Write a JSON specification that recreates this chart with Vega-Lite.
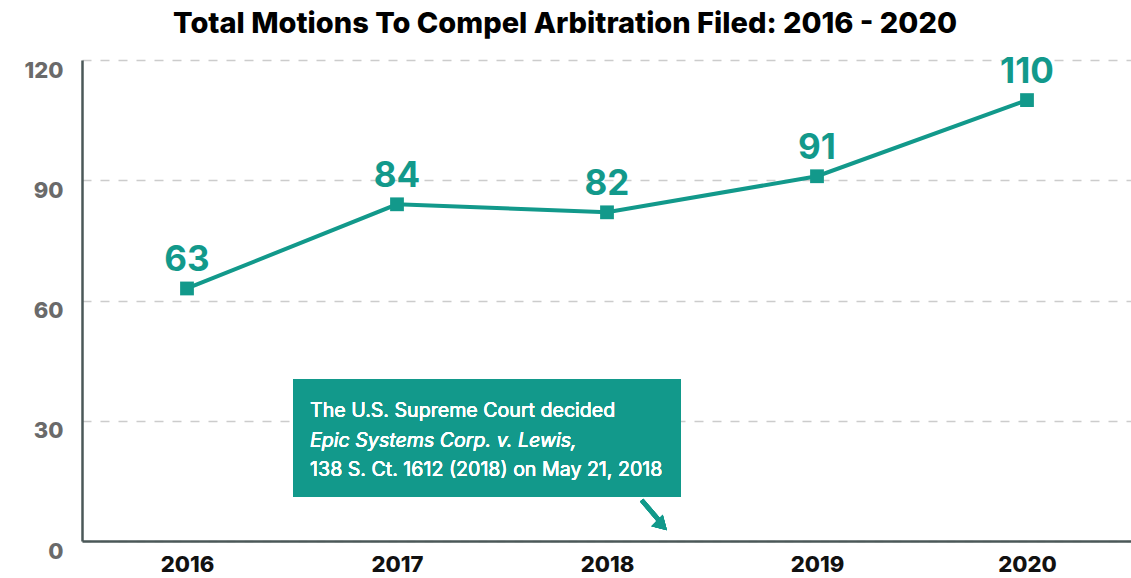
{
  "$schema": "https://vega.github.io/schema/vega-lite/v6.json",
  "width": 1050,
  "height": 481,
  "autosize": "none",
  "padding": {"left": 82, "top": 60, "right": 0, "bottom": 37},
  "background": "white",
  "title": {
    "text": "Total Motions To Compel Arbitration Filed: 2016 - 2020",
    "font": "Inter",
    "fontSize": 29,
    "fontWeight": 800,
    "color": "#000000",
    "anchor": "middle",
    "dx": -42,
    "offset": 16
  },
  "config": {
    "view": {"stroke": null},
    "font": "Inter"
  },
  "data": {
    "values": [
      {"year": 2016, "motions": 63},
      {"year": 2017, "motions": 84},
      {"year": 2018, "motions": 82},
      {"year": 2019, "motions": 91},
      {"year": 2020, "motions": 110}
    ]
  },
  "encoding": {
    "x": {
      "field": "year",
      "type": "quantitative",
      "scale": {"domain": [2015.5, 2020.5], "nice": false, "zero": false},
      "axis": {
        "title": null,
        "values": [2016, 2017, 2018, 2019, 2020],
        "format": "d",
        "grid": false,
        "ticks": false,
        "domainColor": "#4b5858",
        "domainWidth": 2.5,
        "labelFont": "Inter",
        "labelFontWeight": 800,
        "labelFontSize": 22,
        "labelColor": "#111111",
        "labelBaseline": "top",
        "labelPadding": 13
      }
    },
    "y": {
      "field": "motions",
      "type": "quantitative",
      "scale": {"domain": [0, 120], "nice": false},
      "axis": {
        "title": null,
        "values": [0, 30, 60, 90, 120],
        "grid": true,
        "gridColor": "#cccccc",
        "gridDash": [9, 9],
        "gridWidth": 1.5,
        "ticks": false,
        "domainColor": "#4b5858",
        "domainWidth": 2.5,
        "labelFont": "Inter",
        "labelFontWeight": 800,
        "labelFontSize": 22,
        "labelColor": "#6a6a6a",
        "labelPadding": 19,
        "labelOffset": 10
      }
    }
  },
  "layer": [
    {
      "mark": {
        "type": "line",
        "color": "#12998b",
        "strokeWidth": 4,
        "point": {"shape": "square", "size": 190, "filled": true, "color": "#12998b", "opacity": 1}
      }
    },
    {
      "mark": {
        "type": "text",
        "color": "#12998b",
        "font": "Inter",
        "fontSize": 35,
        "fontWeight": 700,
        "dy": -28,
        "baseline": "middle"
      },
      "encoding": {"text": {"field": "motions", "type": "quantitative"}}
    },
    {
      "mark": {"type": "rect", "color": "#12998b", "opacity": 1},
      "encoding": {
        "x": {"datum": 2016.505, "type": "quantitative"},
        "x2": {"datum": 2018.352},
        "y": {"datum": 40.4, "type": "quantitative"},
        "y2": {"datum": 10.98}
      }
    },
    {
      "mark": {"type": "text", "color": "white", "font": "Inter", "fontSize": 19.6, "align": "left", "baseline": "alphabetic"},
      "encoding": {
        "x": {"datum": 2016.586, "type": "quantitative"},
        "y": {"datum": 30.94, "type": "quantitative"},
        "text": {"value": "The U.S. Supreme Court decided"}
      }
    },
    {
      "mark": {"type": "text", "color": "white", "font": "Inter", "fontSize": 19.6, "fontStyle": "italic", "align": "left", "baseline": "alphabetic"},
      "encoding": {
        "x": {"datum": 2016.586, "type": "quantitative"},
        "y": {"datum": 23.45, "type": "quantitative"},
        "text": {"value": "Epic Systems Corp. v. Lewis,"}
      }
    },
    {
      "mark": {"type": "text", "color": "white", "font": "Inter", "fontSize": 19.6, "align": "left", "baseline": "alphabetic"},
      "encoding": {
        "x": {"datum": 2016.586, "type": "quantitative"},
        "y": {"datum": 16.2, "type": "quantitative"},
        "text": {"value": "138 S. Ct. 1612 (2018) on May 21, 2018"}
      }
    },
    {
      "mark": {"type": "rule", "color": "#12998b", "strokeWidth": 4.5},
      "encoding": {
        "x": {"datum": 2018.165, "type": "quantitative"},
        "y": {"datum": 10.2, "type": "quantitative"},
        "x2": {"datum": 2018.25},
        "y2": {"datum": 5.0}
      }
    },
    {
      "mark": {"type": "point", "shape": "triangle-right", "filled": true, "color": "#12998b", "opacity": 1, "size": 260, "angle": 45},
      "encoding": {
        "x": {"datum": 2018.262, "type": "quantitative"},
        "y": {"datum": 3.9, "type": "quantitative"}
      }
    }
  ]
}
